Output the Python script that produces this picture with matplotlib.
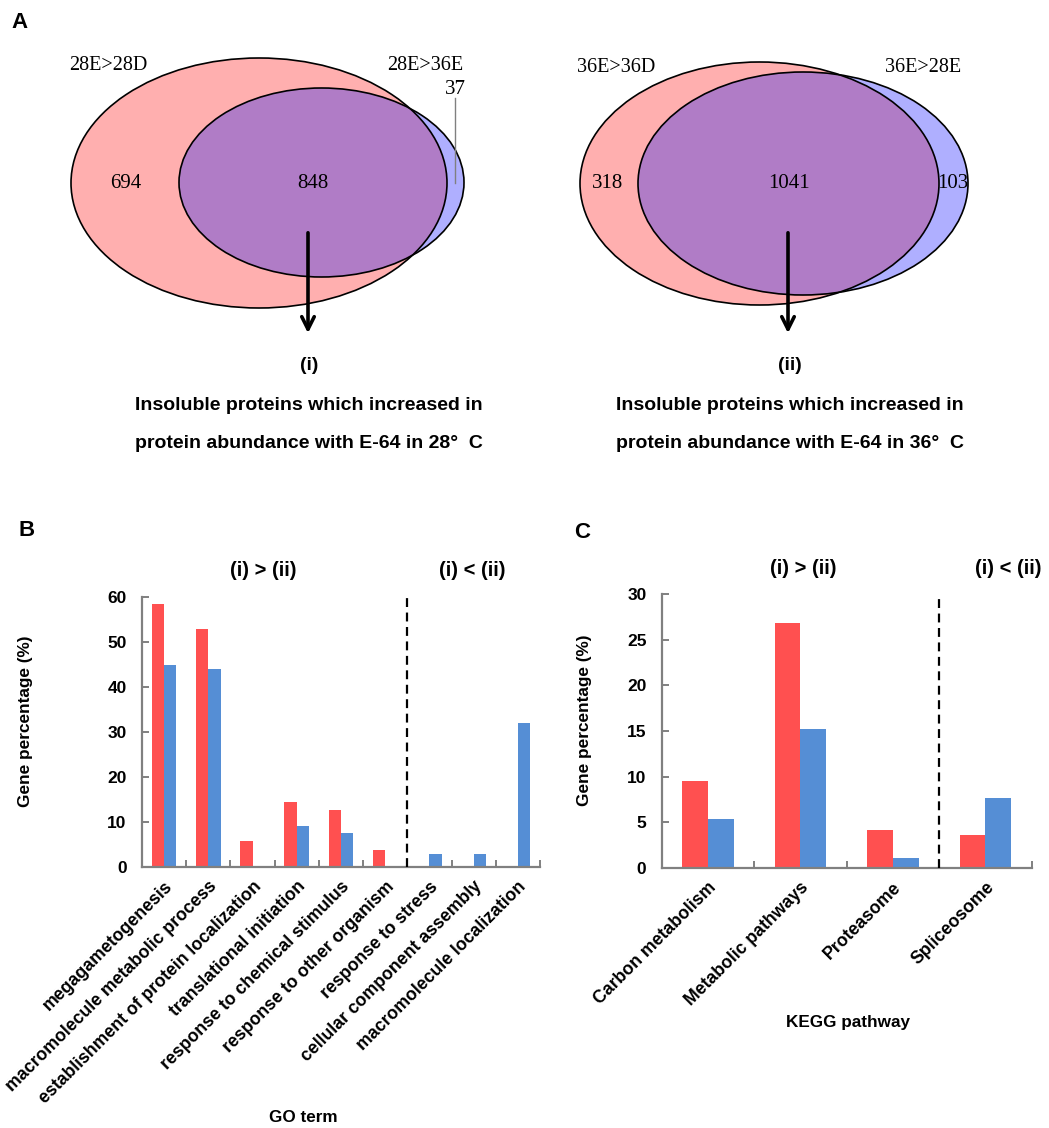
import matplotlib
matplotlib.use("Agg")
import matplotlib.pyplot as plt
from matplotlib.patches import Ellipse

W, H = 1049, 1128

# Venn counts (only-left, shared, only-right)
venn28_names = ["28E>28D", "28E>36E"]
venn28_counts = [694, 848, 37]
venn36_names = ["36E>36D", "36E>28E"]
venn36_counts = [318, 1041, 103]

# GO term enrichment, % of genes in (i) and (ii)
go_terms = [
    "megagametogenesis",
    "macromolecule metabolic process",
    "establishment of protein localization",
    "translational initiation",
    "response to chemical stimulus",
    "response to other organism",
    "response to stress",
    "cellular component assembly",
    "macromolecule localization",
]
go_i = [58.5, 53.0, 5.8, 14.4, 12.6, 3.7, 0, 0, 0]
go_ii = [44.8, 43.9, 0.3, 9.1, 7.6, 0, 3.0, 3.0, 32.1]

# KEGG pathways
kegg_terms = ["Carbon metabolism", "Metabolic pathways", "Proteasome", "Spliceosome"]
kegg_i = [9.5, 26.8, 4.1, 3.6]
kegg_ii = [5.3, 15.2, 1.1, 7.7]

RED = "#FF5050"
BLUE = "#558ED5"
PINK = "#FFAFAF"
LILAC = "#AFAFFF"
PURPLE = "#B07CC6"
GREY = "#808080"
SANS = "Liberation Sans"
SERIF = "Liberation Serif"

fig = plt.figure(figsize=(W / 100, H / 100), dpi=100)

# overlay axes in pixel coordinates for the venns and free text
ov = fig.add_axes([0, 0, 1, 1])
ov.set_xlim(0, W)
ov.set_ylim(H, 0)
ov.axis("off")


def venn(ax, big, small, names, counts, name_pos, count_pos, arrow_x):
    pink = Ellipse(big[:2], big[2], big[3], facecolor=PINK, edgecolor="none", zorder=1)
    blue = Ellipse(small[:2], small[2], small[3], facecolor=LILAC, edgecolor="none", zorder=2)
    both = Ellipse(small[:2], small[2], small[3], facecolor=PURPLE, edgecolor="none", zorder=3)
    ax.add_patch(pink)
    ax.add_patch(blue)
    ax.add_patch(both)
    both.set_clip_path(pink)
    for e in (big, small):
        ax.add_patch(Ellipse(e[:2], e[2], e[3], facecolor="none",
                             edgecolor="black", lw=1.2, zorder=4))
    for name, (x, y) in zip(names, name_pos):
        ax.text(x, y, name, family=SERIF, fontsize=14.5, ha="center", va="center")
    for c, (x, y) in zip(counts, count_pos):
        ax.text(x, y, str(c), family=SERIF, fontsize=15, ha="center", va="center", zorder=5)
    ax.annotate("", xy=(arrow_x, 336), xytext=(arrow_x, 230),
                arrowprops=dict(arrowstyle="->,head_length=0.9,head_width=0.45",
                                lw=2.6, color="black"), zorder=6)


venn(ov, (259, 183, 376, 250), (321.5, 182.5, 285, 189), venn28_names, venn28_counts,
     [(108, 65), (425, 65)], [(126, 184), (313, 184), (455, 89)], 308)
ov.plot([455, 455], [98, 183], color=GREY, lw=1, zorder=5)

venn(ov, (759.5, 183.5, 359, 243), (803, 183.5, 330, 223), venn36_names, venn36_counts,
     [(616, 68), (923, 68)], [(608, 184), (789, 184), (953, 184)], 788)

for x, tag, temp in [(309, "(i)", "28"), (790, "(ii)", "36")]:
    ov.text(x, 366, tag, family=SANS, weight="bold", fontsize=14, ha="center", va="center")
    ov.text(x, 405, "Insoluble proteins which increased in", family=SANS,
            weight="bold", fontsize=14, ha="center", va="center")
    ov.text(x, 443, "protein abundance with E-64 in %s°  C" % temp, family=SANS,
            weight="bold", fontsize=14, ha="center", va="center")

for x, y, letter in [(20, 22, "A"), (27, 530, "B"), (582, 532, "C")]:
    ov.text(x, y, letter, family=SANS, weight="bold", fontsize=16, ha="center", va="center")

for x, y, s in [(263, 570, "(i) > (ii)"), (472, 570, "(i) < (ii)"),
                (803, 568, "(i) > (ii)"), (1008, 568, "(i) < (ii)")]:
    ov.text(x, y, s, family=SANS, weight="bold", fontsize=14.5, ha="center", va="center")

ov.text(303, 1118, "GO term", family=SANS, weight="bold", fontsize=12.3, ha="center", va="center")
ov.text(848, 1022, "KEGG pathway", family=SANS, weight="bold", fontsize=12.3, ha="center", va="center")


def px_axes(x0, x1, y_top, y_bot):
    return [x0 / W, 1 - y_bot / H, (x1 - x0) / W, (y_bot - y_top) / H]


def bar_panel(rect, terms, vals_i, vals_ii, ymax, step, split, ylab_x):
    ax = fig.add_axes(rect)
    n = len(terms)
    xs = list(range(n))
    bw = 0.28
    ax.bar([x - bw / 2 for x in xs], vals_i, width=bw, color=RED, zorder=2)
    ax.bar([x + bw / 2 for x in xs], vals_ii, width=bw, color=BLUE, zorder=2)
    ax.axvline(split, color="black", ls=(0, (4, 2.5)), lw=1.6, zorder=3)
    ax.set_xlim(-0.5, n - 0.5)
    ax.set_ylim(0, ymax)
    for s in ("top", "right"):
        ax.spines[s].set_visible(False)
    for s in ("left", "bottom"):
        ax.spines[s].set_color(GREY)
        ax.spines[s].set_linewidth(1.6)
    ax.set_yticks(range(0, ymax + 1, step))
    ax.set_xticks(xs)
    ax.set_xticks([x + 0.5 for x in xs], minor=True)
    ax.tick_params(axis="x", which="major", length=0, pad=8)
    ax.tick_params(axis="x", which="minor", direction="in", length=5, width=1.4, color=GREY)
    ax.tick_params(axis="y", direction="in", length=5, width=1.4, color=GREY, pad=11)
    ax.set_xticklabels(terms, rotation=45, ha="right", rotation_mode="anchor",
                       family=SANS, weight="bold", fontsize=12.7)
    for lab in ax.get_yticklabels():
        lab.set_family(SANS)
        lab.set_weight("bold")
        lab.set_fontsize(12.5)
    ax.set_ylabel("Gene percentage (%)", family=SANS, weight="bold", fontsize=12.4)
    ax.yaxis.set_label_coords(ylab_x, 0.54)
    return ax


bar_panel(px_axes(142, 540, 597, 867), go_terms, go_i, go_ii, 60, 10, 5.5, -0.274)
bar_panel(px_axes(661.7, 1031.7, 594.3, 867.7), kegg_terms, kegg_i, kegg_ii, 30, 5, 2.5, -0.188)

fig.savefig("out.png", dpi=100)
